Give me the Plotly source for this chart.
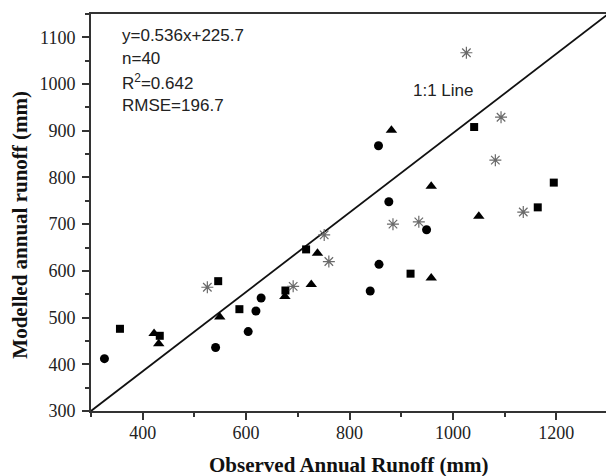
import plotly.graph_objects as go

# Observed (x) vs modelled (y) annual runoff, mm — four site groups
circle_x = [326, 541, 604, 619, 629, 840, 857, 876, 856, 949]
circle_y = [412, 436, 470, 514, 542, 557, 614, 748, 868, 688]

square_x = [356, 433, 546, 587, 676, 716, 918, 1041, 1164, 1195]
square_y = [476, 461, 578, 518, 558, 646, 594, 908, 736, 789]

triangle_x = [422, 431, 549, 675, 726, 738, 881, 958, 958, 1050]
triangle_y = [466, 444, 501, 545, 571, 638, 901, 781, 585, 717]

star_x = [525, 691, 751, 760, 884, 934, 1026, 1093, 1082, 1136]
star_y = [565, 567, 677, 620, 700, 705, 1067, 929, 837, 726]

# reference line as drawn (corner to corner of the frame)
line_x = [300, 1300]
line_y = [300, 1150]

stats_lines = ["y=0.536x+225.7", "n=40", "R<sup>2</sup>=0.642", "RMSE=196.7"]

fig = go.Figure()

fig.add_trace(go.Scatter(x=line_x, y=line_y, mode="lines",
                         line=dict(color="#111111", width=1.8),
                         showlegend=False, hoverinfo="skip"))

fig.add_trace(go.Scatter(x=circle_x, y=circle_y, mode="markers", name="Group 1",
                         marker=dict(symbol="circle", size=9, color="#000000")))
fig.add_trace(go.Scatter(x=square_x, y=square_y, mode="markers", name="Group 2",
                         marker=dict(symbol="square", size=8, color="#000000")))
fig.add_trace(go.Scatter(x=triangle_x, y=triangle_y, mode="markers", name="Group 3",
                         marker=dict(symbol="triangle-up", size=10, color="#000000")))
fig.add_trace(go.Scatter(x=star_x, y=star_y, mode="markers", name="Group 4",
                         marker=dict(symbol="asterisk-open", size=10, color="#6a6a6a",
                                     line=dict(color="#6a6a6a", width=1.2))))

tick_font = dict(family="Liberation Serif", size=18, color="#222222")
axis_common = dict(
    showgrid=False, zeroline=False, ticks="outside", ticklen=7, tickwidth=1.5,
    tickcolor="#333333", linecolor="#333333", linewidth=2, tickfont=tick_font,
)

fig.update_layout(
    width=606, height=476,
    margin=dict(l=91, r=0, t=14, b=65),
    paper_bgcolor="white", plot_bgcolor="white",
    font=dict(family="Liberation Serif", size=18, color="#222222"),
    showlegend=False,
    xaxis=dict(range=[300, 1296], tick0=400, dtick=200, mirror=True,
               ticklabelstandoff=-3,
               minor=dict(tick0=300, dtick=100, ticks="outside", ticklen=4,
                          tickwidth=1.5, tickcolor="#333333"),
               **axis_common),
    yaxis=dict(range=[300, 1150], tick0=300, dtick=100,
               ticklabelstandoff=3,
               minor=dict(tick0=300, dtick=50, ticks="outside", ticklen=4,
                          tickwidth=1.5, tickcolor="#333333"),
               **axis_common),
)

title_font = dict(family="Liberation Serif", size=21, color="#111111")
fig.add_annotation(text="<b>Observed Annual Runoff (mm)</b>", xref="paper", yref="paper",
                   x=0.5, y=-0.136, xanchor="center", yanchor="middle",
                   showarrow=False, font=title_font)
fig.add_annotation(text="<b>Modelled annual runoff (mm)</b>", xref="paper", yref="paper",
                   x=-0.1385, y=0.4685, xanchor="center", yanchor="middle",
                   textangle=-90, showarrow=False, font=title_font)

stat_font = dict(family="Liberation Sans", size=17, color="#222222")
for txt, yp in zip(stats_lines, [0.947, 0.888, 0.829, 0.7695]):
    fig.add_annotation(text=txt, xref="paper", yref="paper", x=0.056, y=yp,
                       xanchor="left", yanchor="middle", showarrow=False, font=stat_font)

fig.add_annotation(text="1:1 Line", xref="paper", yref="paper", x=0.621, y=0.807,
                   xanchor="left", yanchor="middle", showarrow=False, font=stat_font)

fig.write_html("out.html")
